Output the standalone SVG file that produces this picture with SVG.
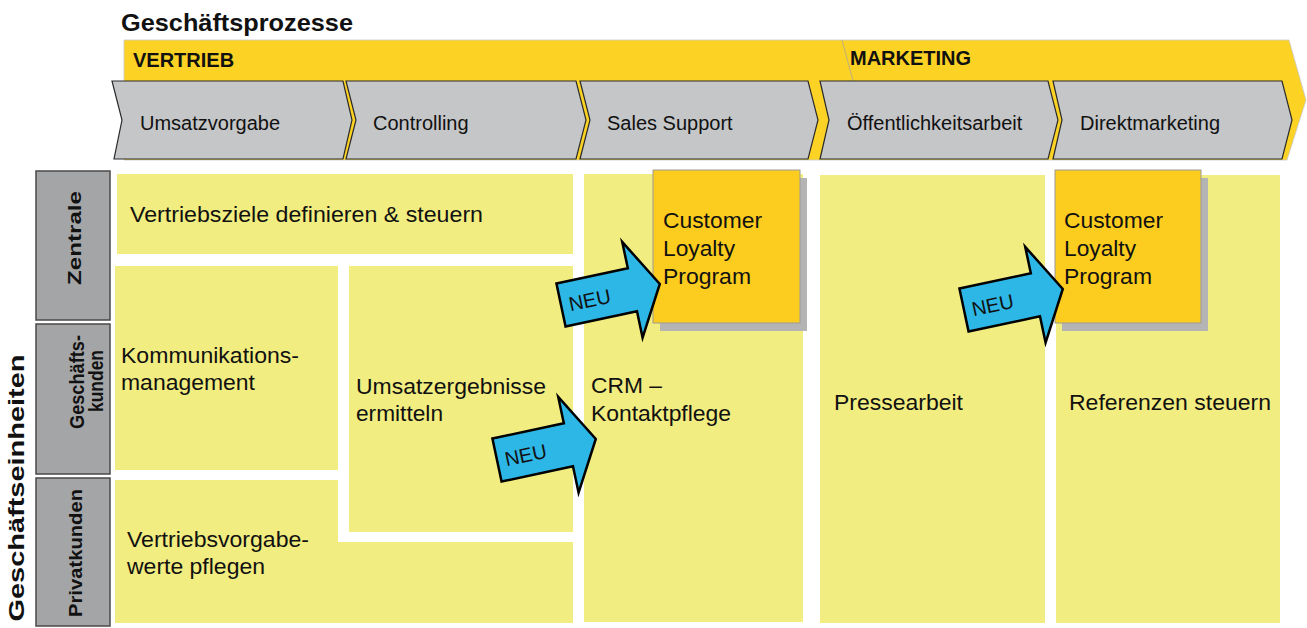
<svg xmlns="http://www.w3.org/2000/svg" width="1307" height="628" viewBox="0 0 1307 628">
  <style>
    text { font-family: "Liberation Sans", Arial, sans-serif; fill: #111; }
    .title { font-size: 24px; font-weight: bold; }
    .band-label { font-size: 20px; font-weight: bold; }
    .step { fill: #c5c6c8; stroke: #2a2a2a; stroke-width: 1.2; }
    .step-label { font-size: 20px; }
    .unit { fill: #a4a5a7; stroke: #4a4a4a; stroke-width: 1.5; }
    .unit-label { font-size: 18px; font-weight: bold; }
    .cell { fill: #f2ed80; }
    .cell-label { font-size: 22px; }
    .clp { fill: #fccd1f; stroke: #9a9a9a; stroke-width: 1; }
    .clp-shadow { fill: #b4b4b4; }
    .neu { fill: #2db7e7; stroke: #000; stroke-width: 2.5; stroke-linejoin: miter; }
    .neu-label { font-size: 20px; }
  </style>
  <defs>
    <!-- block arrow, tail centred on the origin, pointing along +x -->
    <polygon id="neu-arrow" class="neu" points="0,-22 73,-22 73,-49 101,0 73,49 73,22 0,22"/>
  </defs>

  <rect width="1307" height="628" fill="#ffffff"/>

  <!-- heading -->
  <text class="title" x="121" y="31" textLength="232" lengthAdjust="spacingAndGlyphs">Geschäftsprozesse</text>

  <!-- process band -->
  <g id="process-band">
    <polygon points="124,40 1289,40 1306,100 1287,160 124,160" fill="#fcd224" stroke="#c8c8c8" stroke-width="0.8"/>
    <line x1="842" y1="40" x2="853" y2="81" stroke="#c9b66a" stroke-width="1.2"/>
    <text class="band-label" x="133" y="67">VERTRIEB</text>
    <text class="band-label" x="850" y="65">MARKETING</text>
  </g>

  <!-- process steps -->
  <g id="step-umsatzvorgabe">
    <polygon class="step" points="112,81 343,81 352,120 343,159 114,159 122,120"/>
    <text class="step-label" x="140" y="130">Umsatzvorgabe</text>
  </g>
  <g id="step-controlling">
    <polygon class="step" points="346,81 576,81 586,120 576,159 346,159 356,120"/>
    <text class="step-label" x="373" y="130">Controlling</text>
  </g>
  <g id="step-sales-support">
    <polygon class="step" points="580,81 808,81 818,120 808,159 580,159 590,120"/>
    <text class="step-label" x="607" y="130">Sales Support</text>
  </g>
  <g id="step-oeffentlichkeitsarbeit">
    <polygon class="step" points="820,81 1048,81 1058,120 1048,159 820,159 829,120"/>
    <text class="step-label" x="847" y="130">Öffentlichkeitsarbeit</text>
  </g>
  <g id="step-direktmarketing">
    <polygon class="step" points="1053,81 1282,81 1292,120 1282,159 1053,159 1062,120"/>
    <text class="step-label" x="1080" y="130">Direktmarketing</text>
  </g>

  <!-- business units -->
  <g id="units-axis">
    <text class="unit-label" style="font-size:22px" transform="translate(24,488) rotate(-90)" text-anchor="middle" textLength="267" lengthAdjust="spacingAndGlyphs">Geschäftseinheiten</text>
  </g>
  <g id="unit-zentrale">
    <rect class="unit" x="36" y="171" width="74" height="149"/>
    <text class="unit-label" transform="translate(81,238) rotate(-90)" text-anchor="middle" textLength="94" lengthAdjust="spacingAndGlyphs">Zentrale</text>
  </g>
  <g id="unit-geschaeftskunden">
    <rect class="unit" x="36" y="324" width="74" height="150"/>
    <text class="unit-label" style="font-size:20px" transform="translate(84,382) rotate(-90)" text-anchor="middle" textLength="94" lengthAdjust="spacingAndGlyphs">Geschäfts-</text>
    <text class="unit-label" style="font-size:20px" transform="translate(103,381) rotate(-90)" text-anchor="middle" textLength="62" lengthAdjust="spacingAndGlyphs">kunden</text>
  </g>
  <g id="unit-privatkunden">
    <rect class="unit" x="36" y="478" width="74" height="148"/>
    <text class="unit-label" transform="translate(82,553) rotate(-90)" text-anchor="middle" textLength="128" lengthAdjust="spacingAndGlyphs">Privatkunden</text>
  </g>

  <!-- activity cells -->
  <g id="cell-vertriebsziele">
    <rect class="cell" x="117" y="174" width="456" height="80"/>
    <text class="cell-label" x="130" y="222" textLength="353" lengthAdjust="spacingAndGlyphs">Vertriebsziele definieren &amp; steuern</text>
  </g>
  <g id="cell-kommunikation">
    <rect class="cell" x="115" y="266" width="223" height="204"/>
    <text class="cell-label" x="121" y="363" textLength="178" lengthAdjust="spacingAndGlyphs">Kommunikations-</text>
    <text class="cell-label" x="121" y="390" textLength="134" lengthAdjust="spacingAndGlyphs">management</text>
  </g>
  <g id="cell-umsatzergebnisse">
    <rect class="cell" x="349" y="266" width="224" height="266"/>
    <text class="cell-label" x="356" y="394" textLength="190" lengthAdjust="spacingAndGlyphs">Umsatzergebnisse</text>
    <text class="cell-label" x="356" y="421" textLength="87" lengthAdjust="spacingAndGlyphs">ermitteln</text>
  </g>
  <g id="cell-vertriebsvorgabewerte">
    <polygon class="cell" points="115,480 338,480 338,542 573,542 573,623 115,623"/>
    <text class="cell-label" x="127" y="547" textLength="182" lengthAdjust="spacingAndGlyphs">Vertriebsvorgabe-</text>
    <text class="cell-label" x="127" y="574" textLength="138" lengthAdjust="spacingAndGlyphs">werte pflegen</text>
  </g>
  <g id="cell-crm">
    <rect class="cell" x="584" y="174" width="219" height="448"/>
    <text class="cell-label" x="591" y="393" textLength="71" lengthAdjust="spacingAndGlyphs">CRM –</text>
    <text class="cell-label" x="591" y="421" textLength="140" lengthAdjust="spacingAndGlyphs">Kontaktpflege</text>
  </g>
  <g id="cell-pressearbeit">
    <rect class="cell" x="820" y="175" width="225" height="448"/>
    <text class="cell-label" x="834" y="410" textLength="129" lengthAdjust="spacingAndGlyphs">Pressearbeit</text>
  </g>
  <g id="cell-referenzen">
    <rect class="cell" x="1056" y="175" width="224" height="448"/>
    <text class="cell-label" x="1069" y="410" textLength="202" lengthAdjust="spacingAndGlyphs">Referenzen steuern</text>
  </g>

  <!-- new initiatives -->
  <g id="clp-sales">
    <rect class="clp-shadow" x="660" y="178" width="147" height="153"/>
    <rect class="clp" x="653" y="170" width="147" height="153"/>
    <text class="cell-label" x="663" y="228" textLength="99" lengthAdjust="spacingAndGlyphs">Customer</text>
    <text class="cell-label" x="663" y="256" textLength="72" lengthAdjust="spacingAndGlyphs">Loyalty</text>
    <text class="cell-label" x="663" y="284" textLength="88" lengthAdjust="spacingAndGlyphs">Program</text>
  </g>
  <g id="clp-marketing">
    <rect class="clp-shadow" x="1062" y="178" width="146" height="153"/>
    <rect class="clp" x="1055" y="170" width="146" height="153"/>
    <text class="cell-label" x="1064" y="228" textLength="99" lengthAdjust="spacingAndGlyphs">Customer</text>
    <text class="cell-label" x="1064" y="256" textLength="72" lengthAdjust="spacingAndGlyphs">Loyalty</text>
    <text class="cell-label" x="1064" y="284" textLength="88" lengthAdjust="spacingAndGlyphs">Program</text>
  </g>

  <!-- NEU arrows -->
  <g id="connectors">
    <g transform="translate(561,305) rotate(-12)">
      <use href="#neu-arrow"/>
      <text class="neu-label" x="8" y="8">NEU</text>
    </g>
    <g transform="translate(497,460) rotate(-12)">
      <use href="#neu-arrow"/>
      <text class="neu-label" x="8" y="8">NEU</text>
    </g>
    <g transform="translate(964,310) rotate(-12)">
      <use href="#neu-arrow"/>
      <text class="neu-label" x="8" y="8">NEU</text>
    </g>
  </g>
</svg>
